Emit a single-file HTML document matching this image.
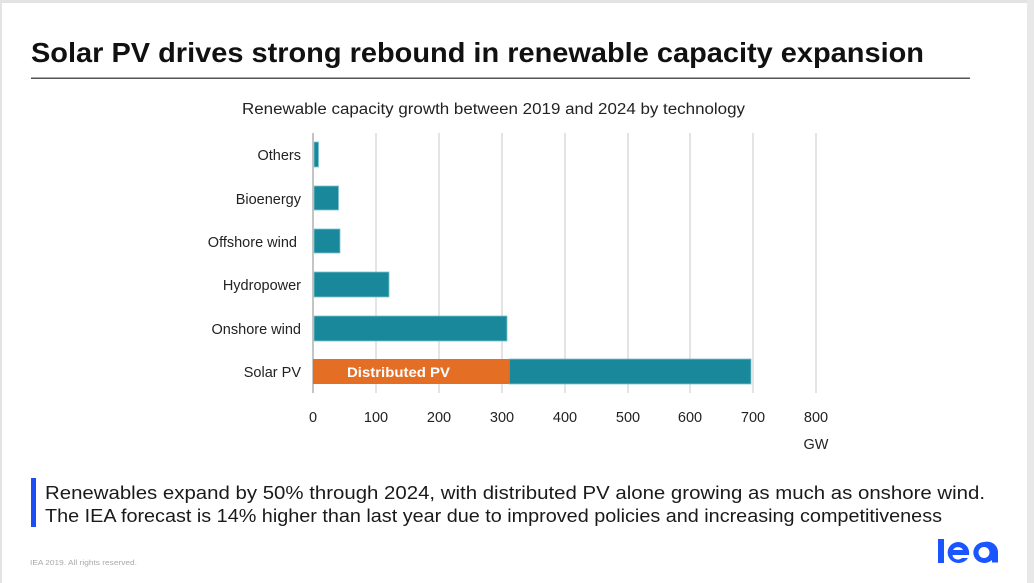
<!DOCTYPE html>
<html><head><meta charset="utf-8"><style>
html,body{margin:0;padding:0;background:#fff;}
body{width:1034px;height:583px;overflow:hidden;}
svg{display:block;}
text{font-family:"Liberation Sans",sans-serif;}
</style></head><body>
<svg width="1034" height="583" viewBox="0 0 1034 583" xmlns="http://www.w3.org/2000/svg">
<rect x="0" y="0" width="1034" height="583" fill="#fff"/>
<rect x="0" y="0" width="1034" height="3" fill="#e3e3e3"/>
<rect x="0" y="0" width="2" height="583" fill="#e3e3e3"/>
<rect x="1027" y="0" width="7" height="583" fill="#e8e8e8"/>

<text x="31" y="62" font-size="28" font-weight="bold" fill="#111" textLength="893" lengthAdjust="spacingAndGlyphs">Solar PV drives strong rebound in renewable capacity expansion</text>
<rect x="31" y="77.5" width="939" height="1.5" fill="#555"/>

<text x="242" y="114" font-size="15.5" fill="#222" textLength="503" lengthAdjust="spacingAndGlyphs">Renewable capacity growth between 2019 and 2024 by technology</text>

<g fill="#e4e4e4">
<rect x="375" y="133" width="2" height="260"/>
<rect x="438" y="133" width="2" height="260"/>
<rect x="501" y="133" width="2" height="260"/>
<rect x="564" y="133" width="2" height="260"/>
<rect x="627" y="133" width="2" height="260"/>
<rect x="689" y="133" width="2" height="260"/>
<rect x="752" y="133" width="2" height="260"/>
<rect x="815" y="133" width="2" height="260"/>
</g>
<rect x="312" y="133" width="2" height="260" fill="#c4c4c4"/>

<g fill="#1a889b" stroke="#7cc3cf" stroke-width="0.8">
<rect x="314" y="142" width="4.5" height="25"/>
<rect x="314" y="186" width="24.5" height="24"/>
<rect x="314" y="229" width="26" height="24"/>
<rect x="314" y="272" width="75" height="25"/>
<rect x="314" y="316" width="193" height="25"/>
<rect x="509" y="359" width="242" height="25"/>
</g>
<rect x="313" y="359" width="196" height="25" fill="#e36e24"/>
<text x="347" y="377" font-size="14" font-weight="bold" fill="#fff" textLength="103" lengthAdjust="spacingAndGlyphs">Distributed PV</text>

<g font-size="14.5" fill="#222" text-anchor="end">
<text x="301" y="160">Others</text>
<text x="301" y="204">Bioenergy</text>
<text x="297" y="247">Offshore wind</text>
<text x="301" y="290">Hydropower</text>
<text x="301" y="334">Onshore wind</text>
<text x="301" y="377">Solar PV</text>
</g>

<g font-size="14.5" fill="#222" text-anchor="middle">
<text x="313" y="422">0</text>
<text x="376" y="422">100</text>
<text x="439" y="422">200</text>
<text x="502" y="422">300</text>
<text x="565" y="422">400</text>
<text x="628" y="422">500</text>
<text x="690" y="422">600</text>
<text x="753" y="422">700</text>
<text x="816" y="422">800</text>
<text x="816" y="449">GW</text>
</g>

<rect x="31" y="478" width="5" height="49" fill="#1f4df5"/>
<text x="45" y="499" font-size="18.5" fill="#1a1a1a" textLength="940" lengthAdjust="spacingAndGlyphs">Renewables expand by 50% through 2024, with distributed PV alone growing as much as onshore wind.</text>
<text x="45" y="522" font-size="18.5" fill="#1a1a1a" textLength="897" lengthAdjust="spacingAndGlyphs">The IEA forecast is 14% higher than last year due to improved policies and increasing competitiveness</text>

<text x="30" y="565" font-size="7.5" fill="#a8a8a8" textLength="107" lengthAdjust="spacingAndGlyphs">IEA 2019. All rights reserved.</text>

<g fill="#1a55ff">
<rect x="938" y="539" width="6" height="24"/>
<path d="M958 542 a11 10.5 0 1 0 10 16 h-6 a5.5 5 0 0 1 -9.5 -3 h16.5 a11 11 0 0 0 -11 -13 z M953 550 a5.5 5 0 0 1 10 0 z" fill-rule="evenodd"/>
<path d="M984 542 a11 10.5 0 1 0 8 18 v2.5 h6 v-11 a11 10.5 0 0 0 -14 -9.5 z M984 547 a5.5 5.5 0 1 1 0 11 a5.5 5.5 0 1 1 0 -11 z" fill-rule="evenodd"/>
</g>
</svg>
</body></html>
